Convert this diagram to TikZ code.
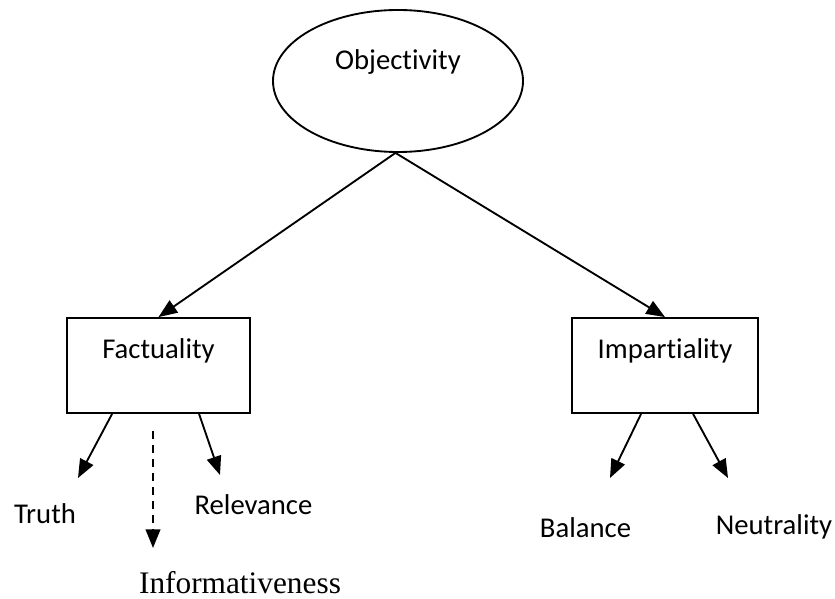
\documentclass[tikz,border=0pt]{standalone}
\usepackage{fontspec}
\setmainfont{Carlito}[Ligatures=NoCommon]
\newfontfamily\timesfont{Liberation Serif}
\usepackage{tikz}
\usetikzlibrary{arrows.meta,calc,shapes.geometric}
\tikzset{
  >={Triangle[length=14pt,width=11pt]},
  every node/.style={font=\fontsize{21.5}{26}\selectfont},
  ell/.style={ellipse,draw,line width=1.4pt,minimum width=187.5pt,minimum height=106.5pt,inner sep=0pt,text height=14pt,text depth=30.5pt},
  box/.style={rectangle,draw,line width=1.4pt,minimum height=71.25pt,inner sep=0pt,text height=14pt,text depth=25.25pt},
  lbl/.style={anchor=base,inner sep=0pt},
  arr/.style={->,line width=1.4pt},
}
\begin{document}
\begin{tikzpicture}[x=0.75pt,y=-0.75pt]
  \useasboundingbox (0,0) rectangle (835,599);
  % top concept and the two dimensions
  \node[ell] (obj) at (398,81) {Objectivity};
  \node[box,minimum width=137.25pt] (fa) at (158.5,365.5) {Factuality};
  \node[box,minimum width=139.5pt] (im) at (665,365.5) {Impartiality};
  \draw[arr] (obj.268) -- (fa.north);
  \draw[arr] (obj.268) -- (im.north);
  % sub-criteria
  \node[lbl] (tru) at (45,523) {Truth};
  \node[lbl] (rel) at (253.5,514) {Relevance};
  \node[lbl,font=\timesfont\fontsize{23.5}{28}\selectfont] (inf) at (240,593) {Informativeness};
  \node[lbl] (bal) at (585.5,537) {Balance};
  \node[lbl] (neu) at (774,534) {Neutrality};
  \coordinate (trutip) at (78,478);
  \coordinate (reltip) at (220,475);
  \coordinate (inftip) at (153,548);
  \coordinate (baltip) at (610,478);
  \coordinate (neutip) at (728,478);
  \draw[arr] ($(fa.south west)+(46,0)$) -- (trutip);
  \draw[arr] ($(fa.south west)+(133,0)$) -- (reltip);
  \draw[arr,dash pattern=on 6pt off 4.5pt] ($(fa.south)+(-5.5,17)$) -- (inftip);
  \draw[arr] ($(im.south west)+(70,0)$) -- (baltip);
  \draw[arr] ($(im.south west)+(122,0)$) -- (neutip);
\end{tikzpicture}
\end{document}
